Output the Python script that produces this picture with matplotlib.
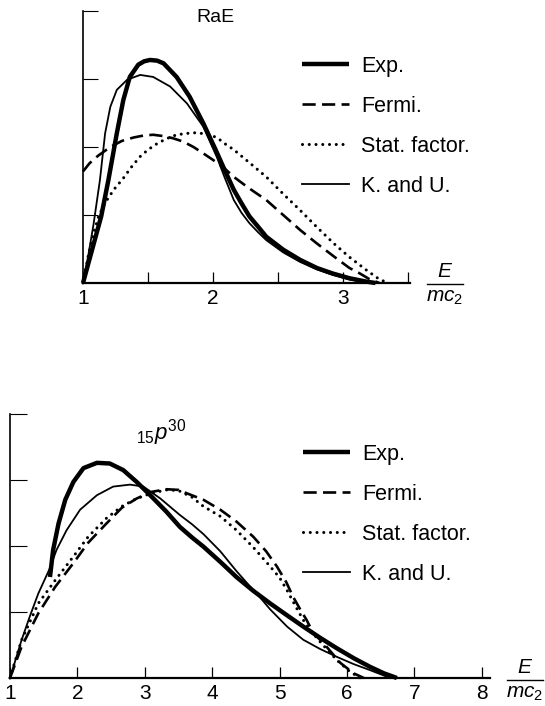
import matplotlib
matplotlib.use("Agg")
import matplotlib.pyplot as plt
from matplotlib.lines import Line2D

plt.rcParams["font.family"] = ["Liberation Sans", "DejaVu Sans"]
plt.rcParams["mathtext.fontset"] = "custom"
plt.rcParams["mathtext.rm"] = "Liberation Sans"
plt.rcParams["mathtext.it"] = "Liberation Sans:italic"

# ── RaE panel ──────────────────────────────────────────────────
rae_exp_x = [1.0, 1.05, 1.10, 1.14, 1.195, 1.26, 1.31, 1.36, 1.425, 1.47, 1.515, 1.57, 1.62,
             1.72, 1.82, 1.925, 2.02, 2.09, 2.16, 2.22, 2.28, 2.35, 2.41, 2.54, 2.67, 2.80,
             2.92, 3.05, 3.18, 3.25]
rae_exp_y = [0.0, 0.35, 0.70, 0.98, 1.51, 2.20, 2.69, 3.03, 3.21, 3.26, 3.28, 3.27, 3.23,
             3.03, 2.74, 2.35, 1.96, 1.66, 1.37, 1.17, 0.98, 0.82, 0.68, 0.49, 0.34, 0.22,
             0.14, 0.07, 0.02, 0.0]

rae_fermi_x = [1.0, 1.05, 1.115, 1.21, 1.30, 1.39, 1.47, 1.54, 1.62, 1.69, 1.77, 1.85, 1.93,
               2.0, 2.08, 2.16, 2.28, 2.41, 2.54, 2.67, 2.80, 2.93, 3.05, 3.13, 3.20, 3.28]
rae_fermi_y = [1.64, 1.76, 1.87, 2.00, 2.09, 2.14, 2.17, 2.18, 2.16, 2.13, 2.08, 2.00, 1.90,
               1.81, 1.70, 1.56, 1.39, 1.22, 1.00, 0.78, 0.58, 0.39, 0.22, 0.14, 0.06, 0.0]

rae_stat_x = [1.0, 1.04, 1.08, 1.12, 1.17, 1.24, 1.31, 1.37, 1.44, 1.50, 1.57, 1.64, 1.72,
              1.80, 1.87, 1.95, 2.03, 2.09, 2.16, 2.28, 2.41, 2.54, 2.67, 2.80, 2.93, 3.05,
              3.18, 3.26, 3.34]
rae_stat_y = [0.0, 0.40, 0.72, 0.98, 1.18, 1.38, 1.54, 1.70, 1.86, 1.96, 2.05, 2.12, 2.18,
              2.20, 2.21, 2.19, 2.14, 2.05, 1.96, 1.77, 1.56, 1.31, 1.07, 0.82, 0.58, 0.38,
              0.19, 0.08, 0.0]

rae_ku_x = [1.0, 1.04, 1.08, 1.13, 1.17, 1.21, 1.26, 1.34, 1.44, 1.54, 1.67, 1.80, 1.925,
            2.03, 2.09, 2.16, 2.22, 2.28, 2.35, 2.41, 2.54, 2.67, 2.80, 2.92, 3.05, 3.18, 3.25]
rae_ku_y = [0.0, 0.40, 0.85, 1.51, 2.20, 2.59, 2.84, 2.99, 3.06, 3.03, 2.89, 2.64, 2.30,
            1.85, 1.55, 1.22, 1.03, 0.88, 0.74, 0.63, 0.45, 0.31, 0.20, 0.12, 0.05, 0.01, 0.0]

# ── P30 panel ──────────────────────────────────────────────────
p_exp_x = [1.593, 1.64, 1.72, 1.82, 1.94, 2.09, 2.29, 2.48, 2.68, 2.88, 3.08, 3.32, 3.52,
           3.70, 3.87, 4.12, 4.36, 4.61, 4.86, 5.11, 5.35, 5.60, 5.85, 6.10, 6.34, 6.55, 6.74]
p_exp_y = [1.53, 1.94, 2.34, 2.70, 2.97, 3.18, 3.26, 3.25, 3.15, 2.97, 2.77, 2.52, 2.29,
           2.13, 1.99, 1.76, 1.53, 1.32, 1.13, 0.95, 0.78, 0.61, 0.45, 0.30, 0.17, 0.07, 0.0]

p_fermi_x = [1.0, 1.17, 1.42, 1.67, 1.94, 2.16, 2.43, 2.66, 2.88, 3.10, 3.32, 3.50, 3.62,
             3.87, 4.12, 4.36, 4.61, 4.80, 4.96, 5.10, 5.20, 5.30, 5.40, 5.50, 5.65, 5.90,
             6.10, 6.25]
p_fermi_y = [0.0, 0.47, 0.98, 1.38, 1.74, 2.05, 2.34, 2.58, 2.72, 2.82, 2.86, 2.85, 2.80,
             2.70, 2.55, 2.37, 2.14, 1.92, 1.69, 1.45, 1.23, 1.05, 0.88, 0.68, 0.53, 0.23,
             0.07, 0.0]

p_stat_x = [1.0, 1.17, 1.42, 1.67, 1.94, 2.16, 2.43, 2.66, 2.88, 3.10, 3.32, 3.50, 3.70,
            3.87, 4.12, 4.36, 4.61, 4.86, 5.00, 5.11, 5.23, 5.35, 5.45, 5.60, 5.85, 6.05, 6.20]
p_stat_y = [0.0, 0.57, 1.13, 1.48, 1.84, 2.14, 2.42, 2.60, 2.72, 2.80, 2.85, 2.84, 2.74,
            2.60, 2.45, 2.24, 1.98, 1.69, 1.52, 1.33, 1.10, 0.88, 0.73, 0.55, 0.27, 0.09, 0.0]

p_ku_x = [1.0, 1.17, 1.30, 1.42, 1.59, 1.69, 1.84, 2.04, 2.29, 2.53, 2.78, 2.98, 3.23, 3.52,
          3.70, 3.87, 4.12, 4.36, 4.55, 4.71, 4.86, 5.11, 5.35, 5.60, 5.85, 6.10, 6.34, 6.59]
p_ku_y = [0.0, 0.57, 0.95, 1.28, 1.66, 1.94, 2.24, 2.55, 2.77, 2.90, 2.93, 2.90, 2.72, 2.47,
          2.33, 2.18, 1.92, 1.62, 1.40, 1.22, 1.04, 0.78, 0.58, 0.44, 0.32, 0.21, 0.12, 0.02]

labels = ["Exp.", "Fermi.", "Stat. factor.", "K. and U."]

STYLE_EXP = dict(color="black", lw=3.2, solid_capstyle="butt", solid_joinstyle="round")
STYLE_FERMI = dict(color="black", lw=1.9, linestyle=(0, (5, 2.4)))
STYLE_STAT = dict(color="black", lw=2.2, linestyle=(0, (0.01, 2.2)), dash_capstyle="round")
STYLE_KU = dict(color="black", lw=1.3, solid_joinstyle="round")

W, H = 545, 706


def fx(px):
    return px / W


def fy(py):
    return 1 - py / H


def setup_axis(ax, xmax, major, minor, ylen, pad):
    ax.set_xlim(1, xmax)
    ax.set_ylim(0, 4)
    for side in ("top", "right"):
        ax.spines[side].set_visible(False)
    ax.spines["left"].set_linewidth(1.2)
    ax.spines["bottom"].set_linewidth(1.6)
    ax.set_xticks(major)
    ax.set_xticklabels([str(int(v)) for v in major])
    ax.set_xticks(minor, minor=True)
    ax.set_yticks([1, 2, 3, 4])
    ax.set_yticklabels([])
    ax.tick_params(axis="x", which="both", direction="in", length=8, width=0.9,
                   labelsize=15, pad=pad)
    ax.tick_params(axis="y", direction="in", length=ylen, width=0.8)
    ax.patch.set_alpha(0)


def draw_curves(ax, exp, fermi, stat, ku):
    h1, = ax.plot(*exp, clip_on=False, **STYLE_EXP)
    h2, = ax.plot(*fermi, clip_on=False, **STYLE_FERMI)
    h3, = ax.plot(*stat, clip_on=False, **STYLE_STAT)
    h4, = ax.plot(*ku, clip_on=False, **STYLE_KU)
    return [h1, h2, h3, h4]


def add_legend(ax, handles, fig, x_px, y_px):
    ax.legend(handles, labels, loc="upper left", bbox_to_anchor=(fx(x_px), fy(y_px)),
              bbox_transform=fig.transFigure, frameon=False, fontsize=15.5,
              handlelength=2.2, handletextpad=0.55, labelspacing=0.88,
              borderpad=0, borderaxespad=0)


def energy_label(fig, cx, cy):
    # E over mc_2 fraction placed to the right of the axis end
    fig.text(fx(cx), fy(cy - 3), "$E$", ha="center", va="bottom", fontsize=15)
    fig.add_artist(Line2D([fx(cx - 18), fx(cx + 18)], [fy(cy), fy(cy)],
                          transform=fig.transFigure, color="black", lw=1.0))
    fig.text(fx(cx), fy(cy + 4), "$mc_2$", ha="center", va="top", fontsize=15)


fig = plt.figure(figsize=(W / 100, H / 100), dpi=100)
fig.patch.set_facecolor("white")

# top panel: RaE
ax1 = fig.add_axes([fx(83), fy(283), (410 - 83) / W, (283 - 11) / H])
setup_axis(ax1, 1 + 327 / 130, [1, 2, 3], [1.5, 2.5, 3.5], 11, 4)
hs = draw_curves(ax1, (rae_exp_x, rae_exp_y), (rae_fermi_x, rae_fermi_y),
                 (rae_stat_x, rae_stat_y), (rae_ku_x, rae_ku_y))
add_legend(ax1, hs, fig, 302, 56)
fig.text(fx(215), fy(17), "RaE", ha="center", va="center", fontsize=14)
energy_label(fig, 445, 284)

# bottom panel: P30
ax2 = fig.add_axes([fx(10), fy(678), 480 / W, 264 / H])
setup_axis(ax2, 1 + 480 / 67.4, [1, 2, 3, 4, 5, 6, 7, 8], [], 12, 4)
hs = draw_curves(ax2, (p_exp_x, p_exp_y), (p_fermi_x, p_fermi_y),
                 (p_stat_x, p_stat_y), (p_ku_x, p_ku_y))
add_legend(ax2, hs, fig, 303, 444)
fig.text(fx(161), fy(433), "$_{15}p^{30}$", ha="center", va="center", fontsize=16)
energy_label(fig, 525, 680)

fig.savefig("out.png", dpi=100, facecolor="white")
plt.close(fig)
